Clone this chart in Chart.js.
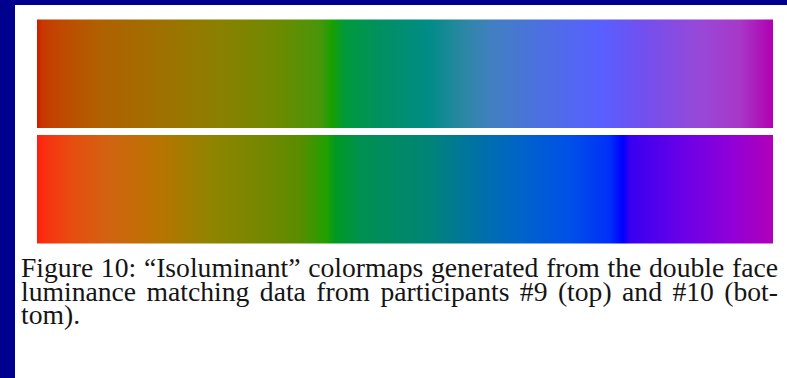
<!DOCTYPE html>
<html>
<head>
<meta charset="utf-8">
<script src="https://cdn.jsdelivr.net/npm/chart.js@4.4.0/dist/chart.umd.min.js"></script>
<style>
  html, body { margin: 0; padding: 0; }
  body { width: 787px; height: 378px; background: #00008f; position: relative; overflow: hidden; }
  #panel { position: absolute; left: 15px; top: 5px; width: 772px; height: 373px; background: #fff; }
  #chart { position: absolute; left: 37px; top: 16px; }
  #caption { position: absolute; left: 21px; top: 256px; width: 757px;
    font-family: "Liberation Serif", serif;
    font-size: 27px; line-height: 23.5px; color: #151515; }
  #caption span { display: block; white-space: nowrap; }
</style>
</head>
<body>
<div id="panel"></div>
<canvas id="chart" width="736" height="231"></canvas>
<div id="caption">
  <span class="just">Figure 10: “Isoluminant” colormaps generated from the double face</span>
  <span class="just">luminance matching data from participants #9 (top) and #10 (bot-</span>
  <span>tom).</span>
</div>
<script>
// Les deux lignes de la figure
const rows = ['Participant #9 (top)', 'Participant #10 (bottom)'];
const extents = [[0, 1], [0, 1]];

// Positions des couleurs le long de la barre (0 = gauche, 1 = droite)
const topPos = [0, 0.007, 0.03, 0.085, 0.167, 0.248, 0.33, 0.385, 0.401, 0.418, 0.466, 0.534, 0.575, 0.616, 0.684, 0.766, 0.82, 0.901, 0.955, 1];
const topColors = ['#d01a00', '#c83800', '#c04800', '#b06000', '#a07000', '#8a8000', '#6c8a00', '#48960a', '#18a000', '#009a3c',
  '#009060', '#008c88', '#2888a0', '#4080c0', '#4c70e0', '#5860ff', '#7050f0', '#9848d8', '#a838c8', '#b000b0'];

const bottomPos = [0, 0.011, 0.045, 0.099, 0.167, 0.236, 0.317, 0.357, 0.394, 0.405, 0.439, 0.534, 0.602, 0.656, 0.724, 0.778, 0.796, 0.806, 0.874, 0.942, 1];
const bottomColors = ['#ff2010', '#f83010', '#e84c10', '#d06410', '#b87400', '#908400', '#708800', '#5a8c00', '#20a000', '#009a20',
  '#009050', '#008478', '#0070a8', '#0064c8', '#0050e8', '#0030f8', '#0000ff', '#3800f0', '#6800e8', '#9000d8', '#b000b8'];

const stops = [[topPos, topColors], [bottomPos, bottomColors]];

function colormap(ctx) {
  const chart = ctx.chart;
  if (!chart.chartArea) return '#888';
  const x = chart.scales.x;
  const g = chart.ctx.createLinearGradient(x.getPixelForValue(0), 0, x.getPixelForValue(1), 0);
  const [pos, cols] = stops[ctx.dataIndex];
  pos.forEach((p, i) => g.addColorStop(p, cols[i]));
  return g;
}

new Chart(document.getElementById('chart'), {
  type: 'bar',
  data: {
    labels: rows,
    datasets: [{
      data: extents,
      backgroundColor: colormap,
      borderWidth: 0,
      borderSkipped: false,
      barThickness: 108
    }]
  },
  options: {
    indexAxis: 'y',
    responsive: false,
    animation: false,
    layout: { padding: 0 },
    scales: {
      x: { display: false, min: 0, max: 1 },
      y: { display: false }
    },
    plugins: { legend: { display: false }, tooltip: { enabled: false } }
  }
});

// taille de police: la première ligne doit remplir la largeur, puis on justifie
const caption = document.getElementById('caption');
const lines = caption.querySelectorAll('.just');
const target = 757;
lines[0].style.display = 'inline-block';
const w0 = lines[0].getBoundingClientRect().width;
lines[0].style.display = 'block';
caption.style.fontSize = Math.min(30, 27 * (target - 6) / w0) + 'px';
lines.forEach(function(el) {
  el.style.display = 'inline-block';
  const w = el.getBoundingClientRect().width;
  const spaces = (el.textContent.match(/ /g) || []).length;
  el.style.wordSpacing = ((target - w) / spaces) + 'px';
  el.style.display = 'block';
});
</script>
</body>
</html>
